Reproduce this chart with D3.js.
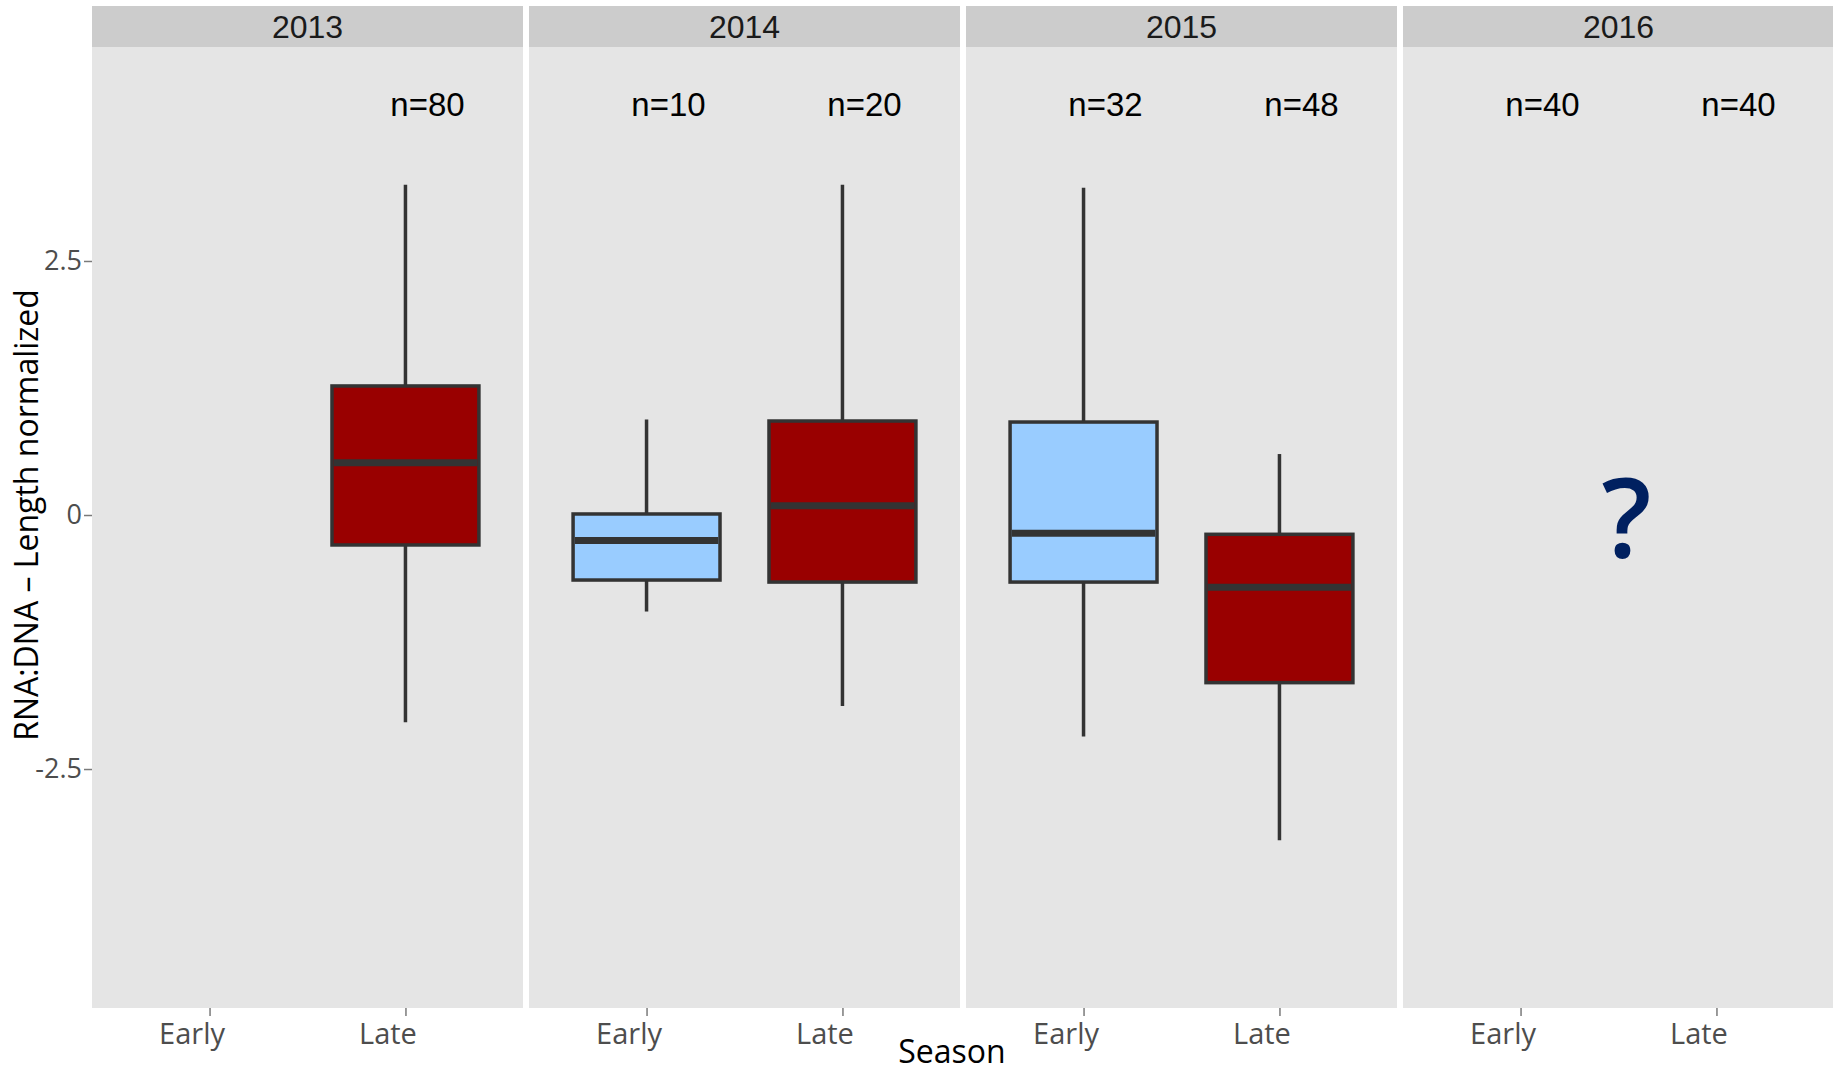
<!DOCTYPE html>
<html>
<head>
<meta charset="utf-8">
<script src="https://cdn.jsdelivr.net/npm/d3@7"></script>
<style>
  html, body { margin: 0; padding: 0; background: #ffffff; }
  svg { display: block; }
</style>
</head>
<body>
<svg id="chart" width="1833" height="1072"></svg>
<script>
// Facets and x categories
const years = ["2013", "2014", "2015", "2016"];
const seasons = ["Early", "Late"];

// Box summaries (one entry per box)
const boxYear     = ["2013", "2014", "2014", "2015", "2015"];
const boxSeason   = ["Late", "Early", "Late", "Early", "Late"];
const whiskerLow  = [-2.04, -0.95, -1.88, -2.18, -3.20];
const lowerQuart  = [-0.295, -0.64, -0.66, -0.66, -1.65];
const medians     = [0.515, -0.25, 0.09, -0.18, -0.71];
const upperQuart  = [1.27, 0.01, 0.925, 0.915, -0.19];
const whiskerHigh = [3.25, 0.94, 3.25, 3.22, 0.60];

// Sample sizes shown above each group
const countYear   = ["2013", "2014", "2014", "2015", "2015", "2016", "2016"];
const countSeason = ["Late", "Early", "Late", "Early", "Late", "Early", "Late"];
const countN      = [80, 10, 20, 32, 48, 40, 40];
const countLevel  = 4.04;

// Y axis ticks
const yTicks = [-2.5, 0, 2.5];
const yTickLabels = ["-2.5", "0", "2.5"];
const yDomain = [-4.852, 4.606];

// Pending year marker
const pendingYear = "2016";
const pendingLevel = -0.42;

const fillBySeason = { Early: "#99CCFF", Late: "#990000" };

// ---- layout ----
const svg = d3.select("#chart");
const W = 1833, H = 1072;
const panelLeft = 92, panelW = 431, panelGap = 6;
const stripTop = 6, stripBottom = 47, panelBottom = 1008;

const y = d3.scaleLinear().domain(yDomain).range([panelBottom, stripBottom]);
const x = d3.scalePoint().domain(seasons).range([0, panelW]).padding(0.6);
const boxW = x.step() * 0.75;

svg.append("rect").attr("width", W).attr("height", H).attr("fill", "#ffffff");

const boxes = boxYear.map((yr, i) => ({
  year: yr, season: boxSeason[i],
  lo: whiskerLow[i], q1: lowerQuart[i], med: medians[i], q3: upperQuart[i], hi: whiskerHigh[i]
}));
const counts = countYear.map((yr, i) => ({ year: yr, season: countSeason[i], n: countN[i] }));

years.forEach((yr, pi) => {
  const px = panelLeft + pi * (panelW + panelGap);
  const g = svg.append("g").attr("transform", `translate(${px},0)`);

  // panel background
  g.append("rect")
    .attr("x", 0).attr("y", stripBottom)
    .attr("width", panelW).attr("height", panelBottom - stripBottom)
    .attr("fill", "#E5E5E5");

  // strip
  g.append("rect")
    .attr("x", 0).attr("y", stripTop)
    .attr("width", panelW).attr("height", stripBottom - stripTop)
    .attr("fill", "#CCCCCC");
  g.append("text")
    .attr("x", panelW / 2).attr("y", 38)
    .attr("text-anchor", "middle")
    .attr("font-family", "'Liberation Sans', Arial, sans-serif")
    .attr("font-size", 32)
    .attr("fill", "#1a1a1a")
    .text(yr);

  // x axis for this facet
  const ax = g.append("g")
    .attr("transform", `translate(0,${panelBottom})`)
    .call(d3.axisBottom(x).tickSize(8).tickPadding(4));
  ax.select(".domain").remove();
  ax.selectAll(".tick line").attr("stroke", "#7a7a7a").attr("stroke-width", 1.5);
  ax.selectAll(".tick text")
    .attr("font-family", "'Open Sans', sans-serif")
    .attr("font-size", 29)
    .attr("fill", "#4d4d4d")
    .attr("dx", -18)
    .attr("y", 36)
    .attr("dy", 0);

  // boxes
  const pb = boxes.filter(d => d.year === yr);
  const bg = g.selectAll("g.box").data(pb).join("g").attr("class", "box");
  bg.append("line")
    .attr("x1", d => x(d.season)).attr("x2", d => x(d.season))
    .attr("y1", d => y(d.hi)).attr("y2", d => y(d.q3))
    .attr("stroke", "#333333").attr("stroke-width", 3.5);
  bg.append("line")
    .attr("x1", d => x(d.season)).attr("x2", d => x(d.season))
    .attr("y1", d => y(d.q1)).attr("y2", d => y(d.lo))
    .attr("stroke", "#333333").attr("stroke-width", 3.5);
  bg.append("rect")
    .attr("x", d => x(d.season) - boxW / 2)
    .attr("y", d => y(d.q3))
    .attr("width", boxW)
    .attr("height", d => y(d.q1) - y(d.q3))
    .attr("fill", d => fillBySeason[d.season])
    .attr("stroke", "#333333").attr("stroke-width", 3.5);
  bg.append("line")
    .attr("x1", d => x(d.season) - boxW / 2 + 1.75)
    .attr("x2", d => x(d.season) + boxW / 2 - 1.75)
    .attr("y1", d => y(d.med)).attr("y2", d => y(d.med))
    .attr("stroke", "#333333").attr("stroke-width", 7);

  // sample sizes
  const pc = counts.filter(d => d.year === yr);
  g.selectAll("text.count").data(pc).join("text").attr("class", "count")
    .attr("x", d => x(d.season) + 22)
    .attr("y", y(countLevel))
    .attr("dy", "0.36em")
    .attr("text-anchor", "middle")
    .attr("font-family", "'Liberation Sans', Arial, sans-serif")
    .attr("font-size", 33)
    .attr("fill", "#000000")
    .text(d => "n=" + d.n);

  if (yr === pendingYear) {
    g.append("text")
      .attr("x", (x("Early") + x("Late")) / 2 + 8)
      .attr("y", y(pendingLevel))
      .attr("text-anchor", "middle")
      .attr("font-family", "'Open Sans', sans-serif")
      .attr("font-weight", 600)
      .attr("font-size", 110)
      .attr("fill", "#002060")
      .text("?");
  }
});

// y axis
const yAx = svg.append("g")
  .attr("transform", `translate(${panelLeft},0)`)
  .call(d3.axisLeft(y).tickValues(yTicks).tickFormat((d, i) => yTickLabels[i]).tickSize(8).tickPadding(2));
yAx.select(".domain").remove();
yAx.selectAll(".tick line").attr("stroke", "#7a7a7a").attr("stroke-width", 1.5);
yAx.selectAll(".tick text")
  .attr("font-family", "'Open Sans', sans-serif")
  .attr("font-size", 27)
  .attr("fill", "#4d4d4d");

// axis titles
svg.append("text")
  .attr("transform", `translate(38,${y(0)}) rotate(-90)`)
  .attr("text-anchor", "middle")
  .attr("font-family", "'Open Sans', sans-serif")
  .attr("font-size", 32)
  .attr("fill", "#000000")
  .text("RNA:DNA \u2013 Length normalized");

svg.append("text")
  .attr("x", 952).attr("y", 1063)
  .attr("text-anchor", "middle")
  .attr("font-family", "'Open Sans', sans-serif")
  .attr("font-size", 32)
  .attr("fill", "#000000")
  .text("Season");
</script>
</body>
</html>
